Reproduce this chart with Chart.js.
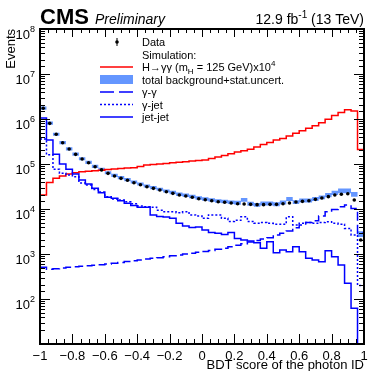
<!DOCTYPE html>
<html>
<head>
<meta charset="utf-8">
<script src="https://cdn.jsdelivr.net/npm/chart.js@4.4.0/dist/chart.umd.min.js"></script>
<style>
  html, body { margin: 0; padding: 0; background: #fff; }
  canvas { display: block; }
</style>
</head>
<body>
<canvas id="plot" width="368" height="371"></canvas>
<script>
// photon ID BDT score, 50 bins of 0.04 from -1 to 1
const binCenters = [
  -0.98, -0.94, -0.90, -0.86, -0.82, -0.78, -0.74, -0.70, -0.66, -0.62,
  -0.58, -0.54, -0.50, -0.46, -0.42, -0.38, -0.34, -0.30, -0.26, -0.22,
  -0.18, -0.14, -0.10, -0.06, -0.02, 0.02, 0.06, 0.10, 0.14, 0.18,
  0.22, 0.26, 0.30, 0.34, 0.38, 0.42, 0.46, 0.50, 0.54, 0.58,
  0.62, 0.66, 0.70, 0.74, 0.78, 0.82, 0.86, 0.90, 0.94, 0.98
];
const binHalfWidth = 0.02;

const dataCounts = [
  1.73e6, 8.0e5, 4.57e5, 2.97e5, 2.15e5, 1.64e5, 1.29e5, 1.07e5, 8.7e4, 7.4e4,
  6.2e4, 5.4e4, 4.8e4, 4.34e4, 3.84e4, 3.47e4, 3.13e4, 2.88e4, 2.64e4, 2.42e4,
  2.23e4, 2.05e4, 1.94e4, 1.82e4, 1.69e4, 1.61e4, 1.53e4, 1.45e4, 1.41e4, 1.36e4,
  1.31e4, 1.29e4, 1.27e4, 1.25e4, 1.25e4, 1.27e4, 1.27e4, 1.31e4, 1.36e4, 1.43e4,
  1.48e4, 1.53e4, 1.64e4, 1.76e4, 1.88e4, 2.05e4, 2.12e4, 2.19e4, 1.58e4, 2040
];

// total background and its relative stat. uncertainty
const bkgTotal = [
  1.75e6, 8.1e5, 4.6e5, 3.0e5, 2.17e5, 1.66e5, 1.31e5, 1.09e5, 8.9e4, 7.6e4,
  6.4e4, 5.6e4, 5.0e4, 4.5e4, 4.0e4, 3.6e4, 3.25e4, 3.0e4, 2.75e4, 2.52e4,
  2.33e4, 2.14e4, 2.03e4, 1.9e4, 1.77e4, 1.68e4, 1.6e4, 1.52e4, 1.47e4, 1.42e4,
  1.38e4, 1.6e4, 1.32e4, 1.24e4, 1.33e4, 1.33e4, 1.28e4, 1.4e4, 1.67e4, 1.43e4,
  1.55e4, 1.55e4, 1.67e4, 1.82e4, 2.05e4, 2.3e4, 2.55e4, 2.55e4, 2.12e4, 2800
];
const bkgRelErr = [
  0.08, 0.08, 0.08, 0.08, 0.08, 0.08, 0.08, 0.08, 0.08, 0.08,
  0.08, 0.08, 0.08, 0.08, 0.08, 0.08, 0.08, 0.08, 0.08, 0.08,
  0.09, 0.09, 0.09, 0.09, 0.09, 0.09, 0.09, 0.09, 0.09, 0.09,
  0.1, 0.1, 0.1, 0.1, 0.1, 0.1, 0.1, 0.1, 0.1, 0.1,
  0.1, 0.1, 0.1, 0.1, 0.11, 0.11, 0.12, 0.12, 0.12, 0.15
];

// H->gg signal, scaled x1e4
const sigHgg = [
  2.05e4, 3.9e4, 4.8e4, 5.4e4, 6.0e4, 6.4e4, 6.7e4, 6.9e4, 7.1e4, 7.3e4,
  7.5e4, 7.7e4, 7.9e4, 8.1e4, 8.3e4, 8.8e4, 9.5e4, 9.8e4, 1.0e5, 1.03e5,
  1.06e5, 1.09e5, 1.12e5, 1.16e5, 1.19e5, 1.23e5, 1.33e5, 1.43e5, 1.55e5, 1.7e5,
  1.84e5, 1.98e5, 2.13e5, 2.4e5, 2.7e5, 3.0e5, 3.4e5, 3.7e5, 4.2e5, 4.8e5,
  5.5e5, 6.2e5, 7.1e5, 8.3e5, 9.9e5, 1.2e6, 1.4e6, 1.6e6, 1.5e6, 2.1e5
];

const bkgGammaGamma = [
  506, 460, 470, 490, 510, 520, 535, 550, 565, 580,
  600, 620, 650, 680, 710, 740, 770, 800, 830, 870,
  910, 950, 1000, 1040, 1090, 1140, 1200, 1270, 1350, 1450,
  1560, 1700, 1850, 2000, 2150, 2300, 2650, 2880, 3230, 3840,
  4400, 5000, 5500, 7000, 8700, 9800, 11200, 12200, 10300, 2880
];

const bkgGammaJet = [
  3.6e5, 1.6e5, 7.6e4, 6.2e4, 5.7e4, 5.2e4, 3.8e4, 3.4e4, 2.7e4, 2.4e4,
  1.88e4, 1.67e4, 1.58e4, 1.45e4, 1.3e4, 1.16e4, 1.12e4, 1.09e4, 9.4e3, 8.7e3,
  8.7e3, 8.3e3, 8.7e3, 7.4e3, 7.0e3, 6.2e3, 7.4e3, 7.4e3, 6.2e3, 5.3e3,
  5.6e3, 6.7e3, 5.3e3, 4.8e3, 5.0e3, 4.8e3, 4.6e3, 4.6e3, 6.7e3, 4.4e3,
  4.8e3, 5.0e3, 4.8e3, 5.0e3, 5.2e3, 4.8e3, 4.6e3, 3.7e3, 2.65e3, 200
];

const bkgJetJet = [
  1.05e6, 3.4e5, 1.65e5, 1.0e5, 7.6e4, 6.0e4, 4.4e4, 3.6e4, 2.9e4, 2.3e4,
  1.82e4, 1.73e4, 1.53e4, 1.34e4, 1.2e4, 1.1e4, 1.1e4, 7.4e3, 6.8e3, 6.6e3,
  6.2e3, 4.8e3, 4.2e3, 3.9e3, 4.0e3, 3.4e3, 3.0e3, 2.9e3, 2.7e3, 3.0e3,
  2.2e3, 2.05e3, 1.95e3, 1.78e3, 1.34e3, 1.87e3, 1.07e3, 1.23e3, 1.12e3, 1.45e3,
  1.12e3, 800, 735, 675, 1180, 870, 570, 223, 62, 1
];

const xMajorTicks = [-1, -0.8, -0.6, -0.4, -0.2, 0, 0.2, 0.4, 0.6, 0.8, 1];
const xTickLabels = ['\u22121', '\u22120.8', '\u22120.6', '\u22120.4', '\u22120.2', '0', '0.2', '0.4', '0.6', '0.8', '1'];
const yLabelExponents = [2, 3, 4, 5, 6, 7, 8];

const FONT = '"Liberation Sans", Arial, Helvetica, sans-serif';
const BLUE = '#0000ff';
const RED = '#ff0000';
const BAND = 'rgb(100,150,255)';

// histogram as a stepped line through the bin edges
function hist(vals){
  const pts = vals.map((v, i) => ({x: binCenters[i] - binHalfWidth, y: v}));
  const last = vals.length - 1;
  pts.push({x: binCenters[last] + binHalfWidth, y: vals[last]});
  return pts;
}

// text built from pieces (sub/superscripts)
function richText(ctx, parts, x, y, align){
  let w = 0;
  parts.forEach(p => { ctx.font = p.f; p.w = ctx.measureText(p.t).width; w += p.w; });
  let cx = align === 'right' ? x - w : x;
  ctx.textAlign = 'left';
  ctx.textBaseline = 'alphabetic';
  parts.forEach(p => { ctx.font = p.f; ctx.fillText(p.t, cx, y + (p.dy || 0)); cx += p.w; });
}

const rootStyle = {
  id: 'rootStyle',
  afterDraw(chart){
    const ctx = chart.ctx;
    const a = chart.chartArea;
    const xs = chart.scales.x, ys = chart.scales.y;
    ctx.save();
    ctx.strokeStyle = '#000';
    ctx.fillStyle = '#000';

    // ticks inside the frame, on all four sides
    ctx.lineWidth = 1;
    ctx.beginPath();
    xs.ticks.forEach(t => {
      const px = Math.round(xs.getPixelForValue(t.value)) + 0.5;
      const major = xMajorTicks.some(m => Math.abs(m - t.value) < 1e-6);
      const len = major ? 10 : 5;
      ctx.moveTo(px, a.bottom); ctx.lineTo(px, a.bottom - len);
      ctx.moveTo(px, a.top); ctx.lineTo(px, a.top + len * 0.8);
    });
    ys.ticks.forEach(t => {
      const lg = Math.log10(t.value);
      const major = Math.abs(lg - Math.round(lg)) < 1e-6;
      const len = major ? 10 : 5;
      const py = Math.round(ys.getPixelForValue(t.value)) + 0.5;
      ctx.moveTo(a.left, py); ctx.lineTo(a.left + len, py);
      ctx.moveTo(a.right, py); ctx.lineTo(a.right - len, py);
    });
    ctx.stroke();

    // frame
    ctx.lineWidth = 2;
    ctx.strokeRect(a.left, a.top, a.right - a.left, a.bottom - a.top);

    // x tick labels
    ctx.font = '13px ' + FONT;
    ctx.textAlign = 'center';
    ctx.textBaseline = 'alphabetic';
    xMajorTicks.forEach((v, i) => {
      ctx.fillText(xTickLabels[i], xs.getPixelForValue(v), 359.5);
    });

    // y tick labels 10^n
    yLabelExponents.forEach(n => {
      const py = ys.getPixelForValue(Math.pow(10, n));
      richText(ctx, [
        {t: '10', f: '13px ' + FONT},
        {t: String(n), f: '9px ' + FONT, dy: -6.5}
      ], 35, py + 9.5, 'right');
    });

    // axis titles
    ctx.font = '13px ' + FONT;
    ctx.textAlign = 'right';
    ctx.fillText('BDT score of the photon ID', a.right, 369);
    ctx.save();
    ctx.translate(15, a.top);
    ctx.rotate(-Math.PI / 2);
    ctx.textAlign = 'right';
    ctx.textBaseline = 'alphabetic';
    ctx.fillText('Events', 0, 0);
    ctx.restore();

    // header
    richText(ctx, [{t: 'CMS', f: 'bold 22px ' + FONT}], a.left, 24, 'left');
    richText(ctx, [{t: 'Preliminary', f: 'italic 14px ' + FONT}], 95, 24, 'left');
    richText(ctx, [
      {t: '12.9 fb', f: '14px ' + FONT},
      {t: '-1', f: '10px ' + FONT, dy: -6},
      {t: ' (13 TeV)', f: '14px ' + FONT}
    ], a.right, 24, 'right');

    // legend
    const lx0 = 100, lx1 = 133, tx = 142;
    const rows = [42, 54.5, 67, 79.5, 92, 104.5, 117];
    const lf = '11px ' + FONT;
    // data marker
    ctx.lineWidth = 1;
    ctx.beginPath();
    ctx.moveTo(117, rows[0] - 4); ctx.lineTo(117, rows[0] + 4);
    ctx.stroke();
    ctx.beginPath();
    ctx.arc(117, rows[0], 1.8, 0, Math.PI * 2);
    ctx.fill();
    // line samples
    const sample = (y, color, dash) => {
      ctx.strokeStyle = color;
      ctx.lineWidth = 1.5;
      ctx.setLineDash(dash);
      ctx.beginPath();
      ctx.moveTo(lx0, y); ctx.lineTo(lx1, y);
      ctx.stroke();
      ctx.setLineDash([]);
    };
    sample(rows[2], RED, []);
    ctx.fillStyle = BAND;
    ctx.fillRect(lx0, rows[3] - 4.5, lx1 - lx0, 9);
    sample(rows[4], BLUE, [14, 5]);
    sample(rows[5], BLUE, [2, 2]);
    sample(rows[6], BLUE, []);

    ctx.fillStyle = '#000';
    const b = 4;
    richText(ctx, [{t: 'Data', f: lf}], tx, rows[0] + b);
    richText(ctx, [{t: 'Simulation:', f: lf}], tx, rows[1] + b);
    richText(ctx, [
      {t: 'H\u2192\u03b3\u03b3 (m', f: lf},
      {t: 'H', f: '8px ' + FONT, dy: 3},
      {t: ' = 125 GeV)x10', f: lf},
      {t: '4', f: '8px ' + FONT, dy: -5}
    ], tx, rows[2] + b);
    richText(ctx, [{t: 'total background+stat.uncert.', f: lf}], tx, rows[3] + b);
    richText(ctx, [{t: '\u03b3-\u03b3', f: lf}], tx, rows[4] + b);
    richText(ctx, [{t: '\u03b3-jet', f: lf}], tx, rows[5] + b);
    richText(ctx, [{t: 'jet-jet', f: lf}], tx, rows[6] + b);
    ctx.restore();
  }
};

const bandHi = bkgTotal.map((v, i) => v * (1 + bkgRelErr[i]));
const bandLo = bkgTotal.map((v, i) => v * (1 - bkgRelErr[i]));

// 'before' in Chart.js = horizontal run first, then the vertical jump
const stepLine = (vals, color, dash) => ({
  data: hist(vals),
  borderColor: color,
  borderWidth: 1.5,
  borderDash: dash,
  stepped: 'before',
  pointRadius: 0,
  fill: false
});

const ctx = document.getElementById('plot').getContext('2d');
const chart = new Chart(ctx, {
  type: 'line',
  data: {
    datasets: [
      {
        label: 'Data',
        data: binCenters.map((x, i) => ({x, y: dataCounts[i]})),
        showLine: false,
        pointRadius: 1.8,
        pointBorderWidth: 0,
        pointBackgroundColor: '#000',
        pointBorderColor: '#000'
      },
      Object.assign({label: 'jet-jet'}, stepLine(bkgJetJet, BLUE, [])),
      Object.assign({label: 'gamma-jet'}, stepLine(bkgGammaJet, BLUE, [2, 2])),
      Object.assign({label: 'gamma-gamma'}, stepLine(bkgGammaGamma, BLUE, [9, 4])),
      Object.assign({label: 'H->gg x1e4'}, stepLine(sigHgg, RED, [])),
      {
        label: 'bkg up',
        data: hist(bandHi),
        stepped: 'before',
        borderColor: 'transparent',
        borderWidth: 0,
        pointRadius: 0,
        backgroundColor: BAND,
        fill: '+1'
      },
      {
        label: 'bkg down',
        data: hist(bandLo),
        stepped: 'before',
        borderColor: 'transparent',
        borderWidth: 0,
        pointRadius: 0,
        fill: false
      }
    ]
  },
  options: {
    responsive: false,
    animation: false,
    layout: {padding: {left: 0, right: 4, top: 29, bottom: 0}},
    plugins: {legend: {display: false}, tooltip: {enabled: false}},
    scales: {
      x: {
        type: 'linear', min: -1, max: 1,
        ticks: {display: false, stepSize: 0.05},
        grid: {display: false},
        border: {display: false},
        afterFit(s){ s.height = 27; }
      },
      y: {
        type: 'logarithmic', min: 10, max: 1e8,
        ticks: {display: false},
        grid: {display: false},
        border: {display: false},
        afterFit(s){ s.width = 40; }
      }
    }
  },
  plugins: [rootStyle]
});
</script>
</body>
</html>
